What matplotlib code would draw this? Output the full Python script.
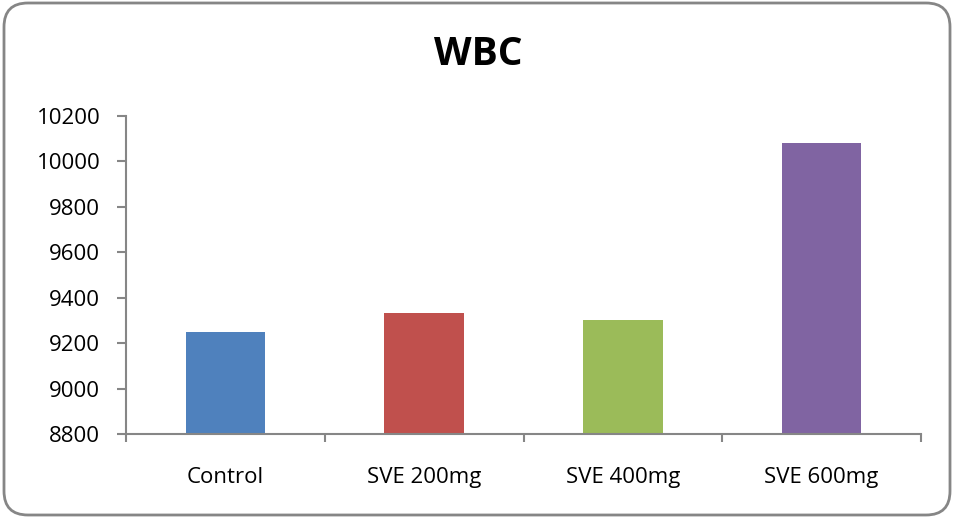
import matplotlib
matplotlib.use("Agg")
import matplotlib.pyplot as plt
from matplotlib.patches import FancyBboxPatch
import numpy as np

categories = ["Control", "SVE 200mg", "SVE 400mg", "SVE 600mg"]
values = [9250, 9332, 9302, 10082]
colors = ["#4F81BD", "#C0504D", "#9BBB59", "#8064A2"]
yticks = [8800, 9000, 9200, 9400, 9600, 9800, 10000, 10200]

plt.rcParams['font.family'] = ['Open Sans', 'DejaVu Sans']

fig = plt.figure(figsize=(9.56, 5.19), dpi=100)
ax = fig.add_axes([126/956, 1-434/519, (921-126)/956, (434-116)/519])

x = np.arange(len(categories))
ax.bar(x, [v - 8800 for v in values], bottom=8800, width=0.4, color=colors)

ax.set_ylim(8800, 10200)
ax.set_xlim(-0.5, 3.5)
ax.set_yticks(yticks)
ax.set_yticklabels([str(t) for t in yticks], fontsize=16)
ax.set_xticks(x)
ax.set_xticklabels(categories, fontsize=16)
ax.set_xticks(np.arange(-0.5, 4, 1), minor=True)
ax.tick_params(axis='x', which='major', length=0, pad=24)
ax.tick_params(axis='x', which='minor', length=6, width=1.5, color='#868686', direction='out')
ax.tick_params(axis='y', length=6.5, width=1.5, color='#868686', direction='out', pad=12)

for s in ['top', 'right']:
    ax.spines[s].set_visible(False)
for s in ['left', 'bottom']:
    ax.spines[s].set_color('#868686')
    ax.spines[s].set_linewidth(1.5)

fig.text(0.5, 1-65/519, "WBC", ha='center', va='baseline', fontsize=28, fontweight='bold')

box = FancyBboxPatch((4/956, 4/519), 946/956, 512/519,
                     boxstyle="round,pad=0,rounding_size=0.025",
                     transform=fig.transFigure, fill=False,
                     edgecolor='#868686', linewidth=2, mutation_aspect=956/519)
fig.patches.append(box)

fig.savefig("out.png", dpi=100, facecolor='white')
